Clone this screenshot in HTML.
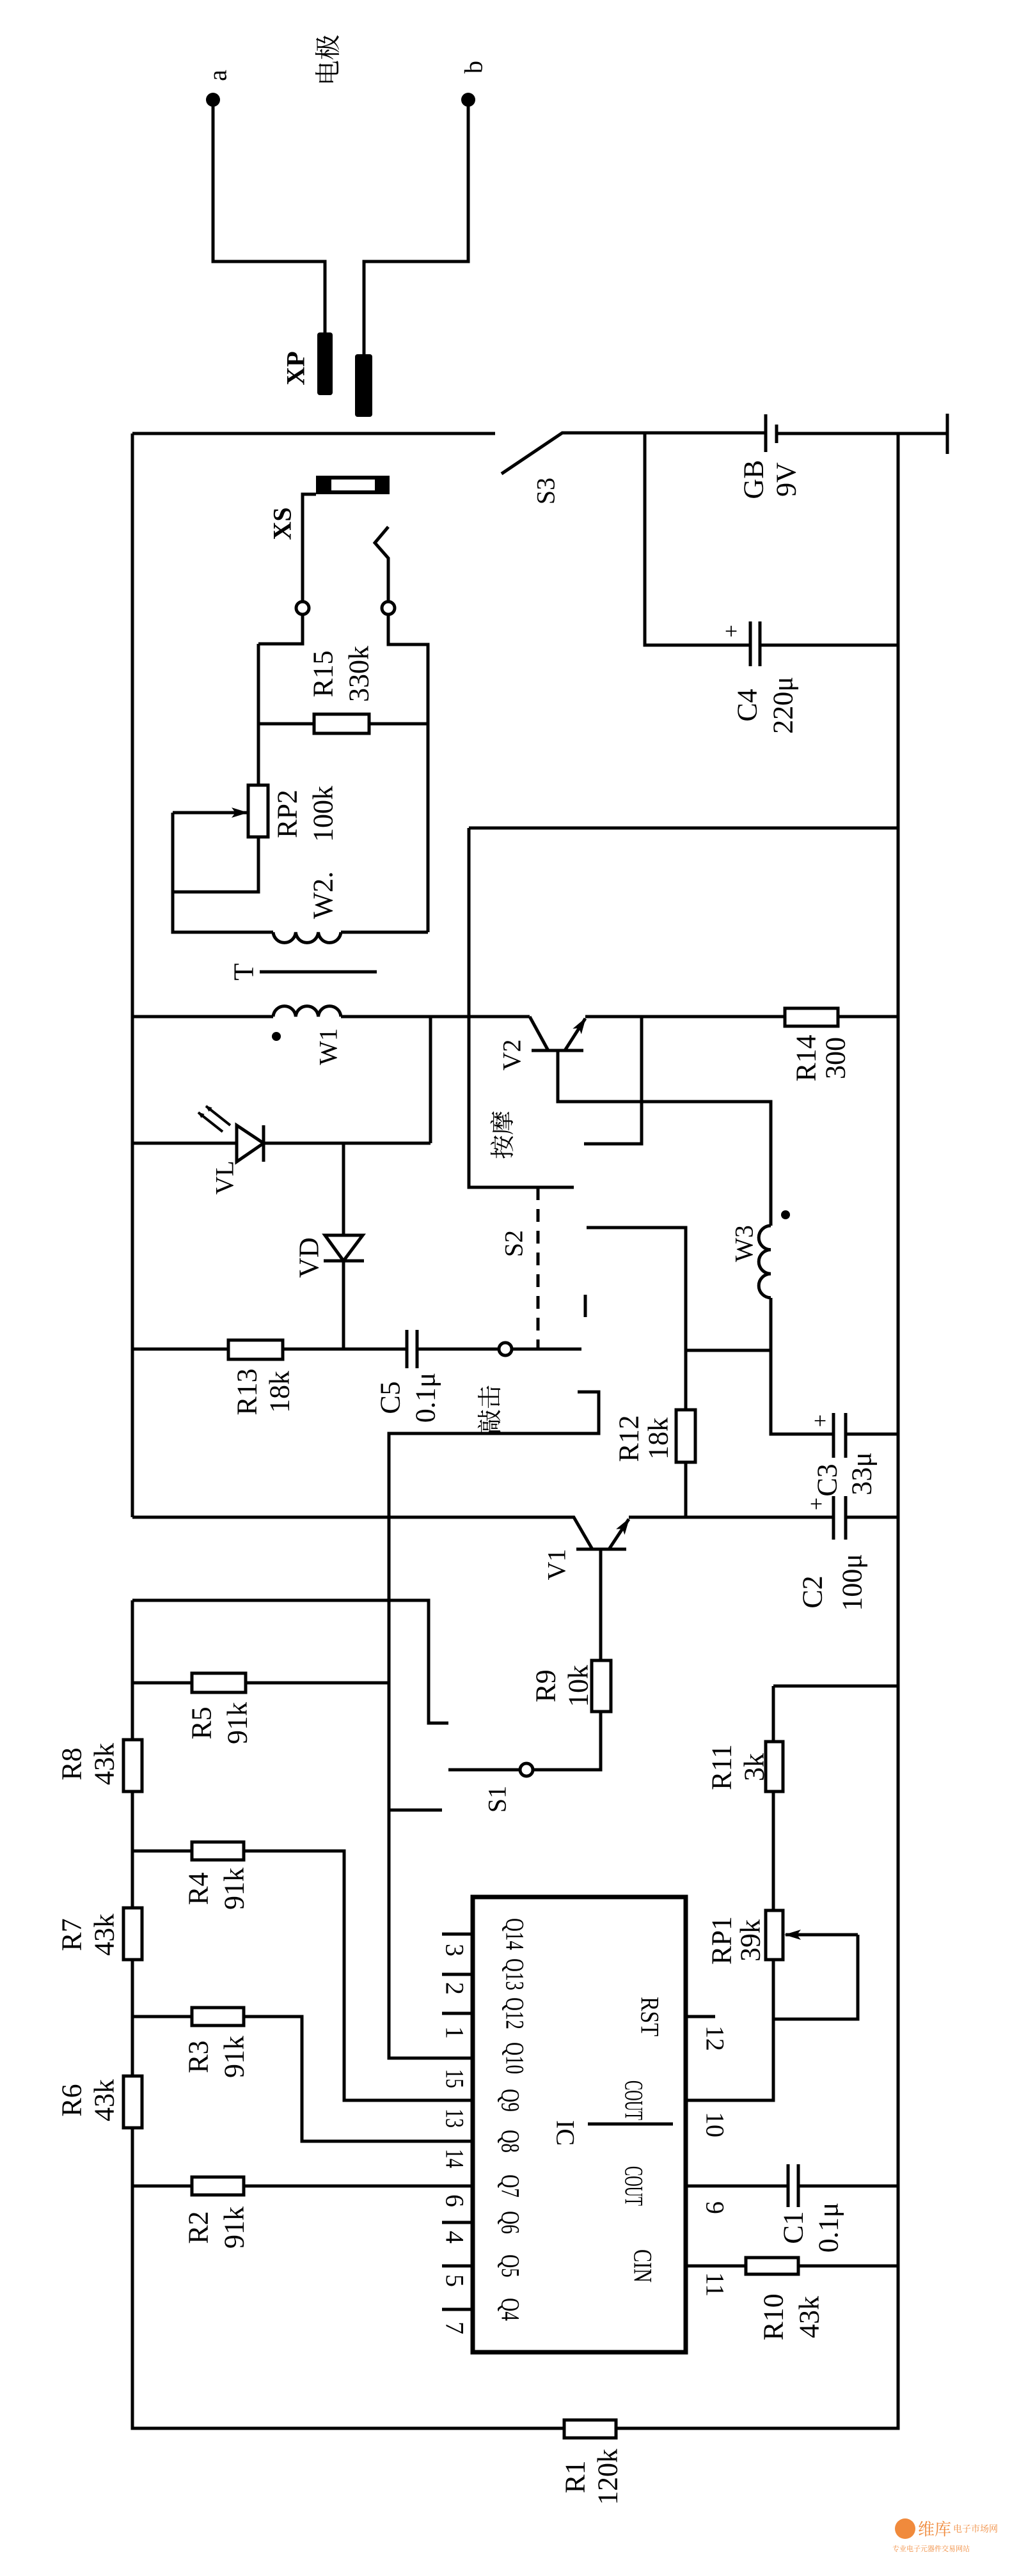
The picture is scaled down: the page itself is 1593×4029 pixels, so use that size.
<!DOCTYPE html>
<html><head><meta charset="utf-8"><style>
html,body{margin:0;padding:0;background:#fff;}
svg{display:block;}
text{font-family:"Liberation Serif","Noto Serif CJK SC",serif;fill:#000;}
</style></head><body>
<svg width="1593" height="4029" viewBox="0 0 1593 4029" xmlns="http://www.w3.org/2000/svg">
<defs>
<marker id="ar" markerWidth="10" markerHeight="8" refX="9" refY="4" orient="auto" markerUnits="userSpaceOnUse" viewBox="0 0 10 8">
<path d="M0,0 L10,4 L0,8 z" fill="#000"/></marker>
<marker id="ab" markerWidth="26" markerHeight="16" refX="24" refY="8" orient="auto" markerUnits="userSpaceOnUse" viewBox="0 0 26 16">
<path d="M0,0 L26,8 L0,16 L6,8 z" fill="#000"/></marker>
</defs>
<rect width="1593" height="4029" fill="#fff"/>
<g fill="none" stroke="#000" stroke-width="5" stroke-linejoin="miter">
<path d="M333 156 V409 H508 V525"/>
<path d="M732 156 V409 H569 V556"/>
<path d="M207 678 H774"/>
<path d="M784 741 L879 677 H1197"/>
<path d="M1214 678 H1481"/>
<path d="M1481 647 V710"/>
<path d="M1197 648 V707"/>
<path d="M1214 664 V693"/>
<path d="M207 678 V2373"/>
<path d="M207 2503 V3798 H882"/>
<path d="M963 3798 H1404 V678"/>
<path d="M1008 678 V1009 H1173 M1188 1009 H1404"/>
<path d="M1173 972 V1042 M1188 972 V1042"/>
<path d="M494 773 H473 V941 M473 961 V1007 H404"/>
<path d="M607 824 L586 849 L607 873 V941 M607 961 V1008 H669 V1458"/>
<path d="M404 1007 V1228 M404 1309 V1395 H270"/>
<path d="M404 1132 H491 M577 1132 H669"/>
<path d="M270 1271 V1458 H427"/>
<path d="M270 1271 H386" marker-end="url(#ab)"/>
<path d="M533 1458 H669"/>
<path d="M427 1458 a17.7 17.7 0 0 0 35.3 0 a17.7 17.7 0 0 0 35.3 0 a17.7 17.7 0 0 0 35.3 0"/>
<path d="M406 1520 H589"/>
<path d="M207 1590 H427 M533 1590 H828"/>
<path d="M427 1590 a17.7 17.7 0 0 1 35.3 0 a17.7 17.7 0 0 1 35.3 0 a17.7 17.7 0 0 1 35.3 0"/>
<path d="M673 1590 V1788"/>
<path d="M207 1788 H370 M412 1788 H673"/>
<path d="M370 1760 V1817 L412 1788 Z"/>
<path d="M412 1760 V1817"/>
<path d="M537 1788 V1932 M537 1972 V2110"/>
<path d="M508 1932 H567 L537 1972 Z"/>
<path d="M506 1972 H569"/>
<path d="M207 2110 H357 M442 2110 H636 M652 2110 H780 M800 2110 H909"/>
<path d="M636 2080 V2140 M652 2080 V2140"/>
<path d="M841 1857 V2110" stroke-dasharray="20 14"/>
<path d="M733 1295 H1404 M733 1295 V1857 H897"/>
<path d="M828 1590 L857 1643 M831 1643 H912"/>
<path d="M883 1643 L915 1593" marker-end="url(#ab)"/>
<path d="M915 1590 H1227 M1310 1590 H1404"/>
<path d="M872 1643 V1723 H1205 V1917"/>
<path d="M1205 1917 a18.8 18.8 0 0 0 0 37.6 a18.8 18.8 0 0 0 0 37.6 a18.8 18.8 0 0 0 0 37.6"/>
<path d="M1205 2030 V2243 H1303 M1322 2243 H1404"/>
<path d="M1303 2210 V2280 M1322 2210 V2280"/>
<path d="M1003 1590 V1789 H913"/>
<path d="M917 1920 H1072 V2205 M1072 2287 V2373"/>
<path d="M1072 2112 H1203"/>
<path d="M915 2025 V2060"/>
<path d="M903 2177 H936 V2242 H608 V3219 H739"/>
<path d="M207 2373 H897 L926 2423 M901 2423 H979"/>
<path d="M952 2423 L983 2376" marker-end="url(#ab)"/>
<path d="M983 2373 H1303 M1322 2373 H1404"/>
<path d="M1303 2340 V2408 M1322 2340 V2408"/>
<path d="M939 2423 V2597 M939 2677 V2768 H833"/>
<path d="M813 2768 H701"/>
<path d="M207 2503 H670 V2695 H701"/>
<path d="M207 2632 H300 M384 2632 H608"/>
<path d="M608 2831 H691"/>
<path d="M1209 2637 H1404 M1209 2637 V2724 M1209 2802 V2988 M1209 3065 V3285 H1072"/>
<path d="M1341 3026 H1228" marker-end="url(#ab)"/>
<path d="M1341 3026 V3158 H1209"/>
<path d="M207 2895 H300 M381 2895 H538 V3285 H739"/>
<path d="M207 3154 H300 M381 3154 H472 V3349 H739"/>
<path d="M207 3419 H300 M381 3419 H739"/>
<path d="M691 3025 H739 M691 3088 H739 M691 3149 H739 M691 3476 H739 M691 3544 H739 M691 3612 H739"/>
<path d="M1072 3154 H1118"/>
<path d="M1072 3419 H1232 M1248 3419 H1404 M1232 3385 V3452 M1248 3385 V3452"/>
<path d="M1072 3544 H1166 M1248 3544 H1404"/>
<path d="M919 3322 H1052"/>
<rect x="739" y="2967" width="333" height="712" stroke-width="7"/>
</g>
<g stroke="#000" stroke-width="4" fill="none">
<path d="M360 1760 L322 1730" marker-end="url(#ar)"/>
<path d="M348 1770 L310 1740" marker-end="url(#ar)"/>
</g>
<g fill="#fff" stroke="#000" stroke-width="5">
<rect x="491" y="1117" width="86" height="30"/>
<rect x="388" y="1228" width="31" height="81"/>
<rect x="357" y="2096" width="85" height="30"/>
<rect x="1227" y="1577" width="83" height="28"/>
<rect x="1057" y="2205" width="30" height="82"/>
<rect x="300" y="2617" width="84" height="30"/>
<rect x="925" y="2597" width="30" height="80"/>
<rect x="193" y="2721" width="29" height="81"/>
<rect x="1197" y="2724" width="27" height="78"/>
<rect x="300" y="2881" width="81" height="28"/>
<rect x="193" y="2984" width="29" height="81"/>
<rect x="1197" y="2988" width="27" height="77"/>
<rect x="300" y="3140" width="81" height="28"/>
<rect x="193" y="3247" width="29" height="81"/>
<rect x="300" y="3405" width="81" height="28"/>
<rect x="1166" y="3531" width="82" height="26"/>
<rect x="882" y="3785" width="81" height="28"/>
<circle cx="473" cy="951" r="10"/>
<circle cx="607" cy="951" r="10"/>
<circle cx="790" cy="2110" r="10"/>
<circle cx="823" cy="2768" r="10"/>
</g>
<rect x="496" y="520" width="24" height="98" rx="4" fill="#000"/>
<rect x="555" y="554" width="27" height="98" rx="4" fill="#000"/>
<rect x="494" y="744" width="115" height="29" fill="#000"/>
<rect x="518" y="750" width="68" height="17" fill="#fff"/>
<circle cx="333" cy="156" r="11" fill="#000"/>
<circle cx="732" cy="156" r="11" fill="#000"/>
<circle cx="432" cy="1621" r="7" fill="#000"/>
<circle cx="1228" cy="1900" r="7" fill="#000"/>
<g font-size="44" text-anchor="middle" dominant-baseline="central">
<text transform="translate(340,118) rotate(-90)" font-size="40" font-family="Liberation Sans, sans-serif">a</text>
<text transform="translate(740,105) rotate(-90)" font-size="40" font-family="Liberation Sans, sans-serif">b</text>
<text transform="translate(513,94) rotate(-90)" font-size="40" font-family="Noto Sans CJK SC, sans-serif">电极</text>
<text transform="translate(462,576) rotate(-90)" font-family="Liberation Sans, sans-serif" font-weight="bold" font-size="40">XP</text>
<text transform="translate(853,768) rotate(-90)" font-family="Liberation Sans, sans-serif" font-size="40">S3</text>
<text transform="translate(1178,750) rotate(-90)">GB</text>
<text transform="translate(1229,750) rotate(-90)">9V</text>
<text transform="translate(1143,987)" font-size="36">+</text>
<text transform="translate(1168,1103) rotate(-90)">C4</text>
<text transform="translate(1224,1103) rotate(-90)">220μ</text>
<text transform="translate(441,819) rotate(-90)" font-family="Liberation Sans, sans-serif" font-weight="bold" font-size="40">XS</text>
<text transform="translate(505,1054) rotate(-90)">R15</text>
<text transform="translate(561,1054) rotate(-90)">330k</text>
<text transform="translate(449,1273) rotate(-90)">RP2</text>
<text transform="translate(505,1273) rotate(-90)">100k</text>
<text transform="translate(505,1400) rotate(-90)">W2.</text>
<text transform="translate(381,1520) rotate(-90)">T</text>
<text transform="translate(513,1637) rotate(-90)" font-family="Liberation Sans, sans-serif" font-size="40">W1</text>
<text transform="translate(351,1842) rotate(-90)" font-family="Liberation Sans, sans-serif" font-size="40">VL</text>
<text transform="translate(483,1967) rotate(-90)">VD</text>
<text transform="translate(386,2177) rotate(-90)">R13</text>
<text transform="translate(437,2177) rotate(-90)">18k</text>
<text transform="translate(610,2186) rotate(-90)">C5</text>
<text transform="translate(665,2186) rotate(-90)">0.1μ</text>
<text transform="translate(803,1945) rotate(-90)" font-family="Liberation Sans, sans-serif" font-size="40">S2</text>
<text transform="translate(787,1775) rotate(-90)" font-family="Noto Sans CJK SC, sans-serif" font-size="38">按摩</text>
<text transform="translate(767,2204) rotate(-90)" font-family="Noto Sans CJK SC, sans-serif" font-size="38">敲击</text>
<text transform="translate(800,1650) rotate(-90)" font-family="Liberation Sans, sans-serif" font-size="40">V2</text>
<text transform="translate(1260,1655) rotate(-90)">R14</text>
<text transform="translate(1306,1655) rotate(-90)">300</text>
<text transform="translate(1163,1945) rotate(-90)" font-family="Liberation Sans, sans-serif" font-size="40">W3</text>
<text transform="translate(983,2250) rotate(-90)">R12</text>
<text transform="translate(1029,2250) rotate(-90)">18k</text>
<text transform="translate(1282,2222)" font-size="36">+</text>
<text transform="translate(1293,2315) rotate(-90)">C3</text>
<text transform="translate(1347,2305) rotate(-90)">33μ</text>
<text transform="translate(1276,2352)" font-size="36">+</text>
<text transform="translate(1270,2490) rotate(-90)">C2</text>
<text transform="translate(1332,2475) rotate(-90)">100μ</text>
<text transform="translate(870,2447) rotate(-90)" font-family="Liberation Sans, sans-serif" font-size="40">V1</text>
<text transform="translate(315,2695) rotate(-90)">R5</text>
<text transform="translate(371,2695) rotate(-90)">91k</text>
<text transform="translate(853,2637) rotate(-90)">R9</text>
<text transform="translate(904,2637) rotate(-90)">10k</text>
<text transform="translate(112,2759) rotate(-90)">R8</text>
<text transform="translate(163,2759) rotate(-90)">43k</text>
<text transform="translate(1128,2764) rotate(-90)">R11</text>
<text transform="translate(1179,2764) rotate(-90)">3k</text>
<text transform="translate(777,2814) rotate(-90)" font-family="Liberation Sans, sans-serif" font-size="40">S1</text>
<text transform="translate(310,2954) rotate(-90)">R4</text>
<text transform="translate(366,2954) rotate(-90)">91k</text>
<text transform="translate(112,3026) rotate(-90)">R7</text>
<text transform="translate(163,3026) rotate(-90)">43k</text>
<text transform="translate(1128,3035) rotate(-90)">RP1</text>
<text transform="translate(1173,3035) rotate(-90)">39k</text>
<text transform="translate(310,3217) rotate(-90)">R3</text>
<text transform="translate(366,3217) rotate(-90)">91k</text>
<text transform="translate(112,3285) rotate(-90)">R6</text>
<text transform="translate(163,3285) rotate(-90)">43k</text>
<text transform="translate(310,3484) rotate(-90)">R2</text>
<text transform="translate(366,3484) rotate(-90)">91k</text>
<text transform="translate(1240,3484) rotate(-90)">C1</text>
<text transform="translate(1295,3484) rotate(-90)">0.1μ</text>
<text transform="translate(1209,3624) rotate(-90)">R10</text>
<text transform="translate(1265,3624) rotate(-90)">43k</text>
<text transform="translate(899,3874) rotate(-90)">R1</text>
<text transform="translate(950,3874) rotate(-90)">120k</text>
</g>
<g font-size="40" text-anchor="middle" dominant-baseline="central">
<text transform="translate(805,3025) rotate(90)" textLength="50" lengthAdjust="spacingAndGlyphs">Q14</text>
<text transform="translate(805,3088) rotate(90)" textLength="50" lengthAdjust="spacingAndGlyphs">Q13</text>
<text transform="translate(805,3149) rotate(90)" textLength="50" lengthAdjust="spacingAndGlyphs">Q12</text>
<text transform="translate(805,3219) rotate(90)" textLength="50" lengthAdjust="spacingAndGlyphs">Q10</text>
<text transform="translate(798,3285) rotate(90)" textLength="36" lengthAdjust="spacingAndGlyphs">Q9</text>
<text transform="translate(798,3349) rotate(90)" textLength="36" lengthAdjust="spacingAndGlyphs">Q8</text>
<text transform="translate(798,3419) rotate(90)" textLength="36" lengthAdjust="spacingAndGlyphs">Q7</text>
<text transform="translate(798,3476) rotate(90)" textLength="36" lengthAdjust="spacingAndGlyphs">Q6</text>
<text transform="translate(798,3544) rotate(90)" textLength="36" lengthAdjust="spacingAndGlyphs">Q5</text>
<text transform="translate(798,3612) rotate(90)" textLength="36" lengthAdjust="spacingAndGlyphs">Q4</text>
<text transform="translate(711,3050) rotate(90)">3</text>
<text transform="translate(711,3110) rotate(90)">2</text>
<text transform="translate(711,3179) rotate(90)">1</text>
<text transform="translate(711,3251) rotate(90)" textLength="30" lengthAdjust="spacingAndGlyphs">15</text>
<text transform="translate(711,3313) rotate(90)" textLength="30" lengthAdjust="spacingAndGlyphs">13</text>
<text transform="translate(711,3376) rotate(90)" textLength="30" lengthAdjust="spacingAndGlyphs">14</text>
<text transform="translate(711,3442) rotate(90)">6</text>
<text transform="translate(711,3499) rotate(90)">4</text>
<text transform="translate(711,3567) rotate(90)">5</text>
<text transform="translate(711,3641) rotate(90)">7</text>
<text transform="translate(1016,3154) rotate(90)" textLength="62" lengthAdjust="spacingAndGlyphs">RST</text>
<text transform="translate(991,3285) rotate(90)" textLength="62" lengthAdjust="spacingAndGlyphs">COUT</text>
<text transform="translate(991,3419) rotate(90)" textLength="62" lengthAdjust="spacingAndGlyphs">COUT</text>
<text transform="translate(1005,3544) rotate(90)" textLength="52" lengthAdjust="spacingAndGlyphs">CIN</text>
<text transform="translate(1118,3188) rotate(90)">12</text>
<text transform="translate(1118,3323) rotate(90)">10</text>
<text transform="translate(1118,3453) rotate(90)">9</text>
<text transform="translate(1118,3573) rotate(90)">11</text>
<text transform="translate(884,3336) rotate(90)">IC</text>
</g>
<circle cx="1415" cy="3955" r="16" fill="#f08a3c"/>
<text x="1435" y="3965" font-size="26" font-family="Noto Sans CJK SC, sans-serif" style="fill:#f08a3c">维库</text>
<text x="1490" y="3960" font-size="14" font-family="Noto Sans CJK SC, sans-serif" style="fill:#f08a3c">电子市场网</text>
<text x="1395" y="3990" font-size="11" font-family="Noto Sans CJK SC, sans-serif" style="fill:#f08a3c">专业电子元器件交易网站</text>
</svg>
</body></html>
